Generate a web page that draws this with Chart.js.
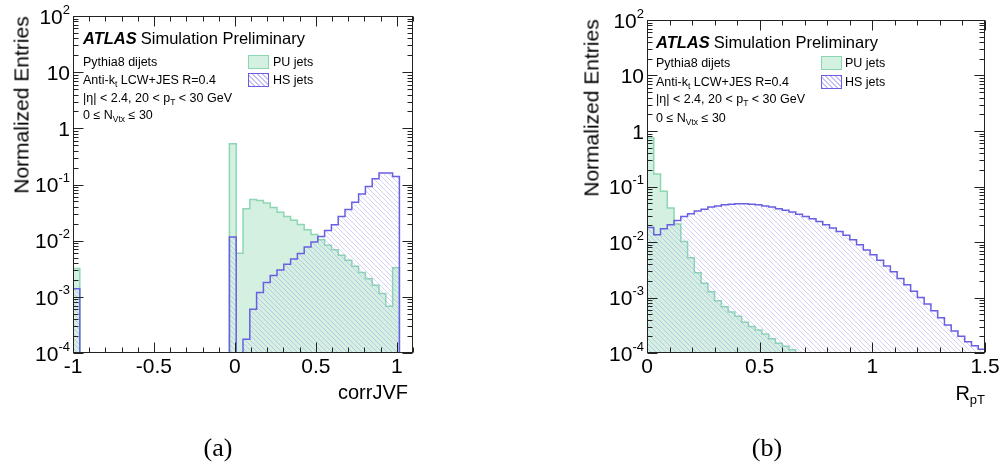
<!DOCTYPE html>
<html>
<head>
<meta charset="utf-8">
<script src="https://cdn.jsdelivr.net/npm/chart.js@4.4.1/dist/chart.umd.min.js"></script>
<style>
  body { margin: 0; background: #fff; width: 1008px; height: 464px; position: relative; overflow: hidden;
         font-family: "Liberation Sans", Arial, sans-serif; color: #000; }
  canvas { position: absolute; top: 0; }
  .t { position: absolute; white-space: nowrap; line-height: 1; }
  .atlas { font-size: 16.5px; }
  .atlas b { font-style: italic; font-weight: bold; margin-right: 4px; }
  .small { font-size: 12.5px; }
  .small sub { font-size: 8.5px; vertical-align: -3px; line-height: 0; }
  .box { position: absolute; width: 19px; height: 12px; }
  .pu { background: rgb(212, 240, 225); border: 1px solid rgb(140, 215, 178); }
  .hs { border: 1px solid rgb(105, 95, 225);
        background: repeating-linear-gradient(45deg, rgba(160, 150, 240, 0.6) 0 1px, transparent 1px 3.5px); }
  .ytitle { font-size: 21px; transform: translate(-50%, -50%) rotate(-90deg); }
  .xtitle { font-size: 20px; }
  .xtitle sub { font-size: 13px; vertical-align: -4px; line-height: 0; }
  .cap { font-family: "Liberation Serif", "Times New Roman", serif; font-size: 26px; width: 60px; text-align: center; }
</style>
</head>
<body>
<canvas id="jvf" width="504" height="464" style="left:0"></canvas>
<canvas id="rpt" width="504" height="464" style="left:504px"></canvas>

<!-- left panel texts -->
<div class="t atlas" style="left:83px; top:30px"><b>ATLAS</b>Simulation Preliminary</div>
<div class="t small" style="left:83px; top:55.5px">Pythia8 dijets</div>
<div class="t small" style="left:83px; top:74px">Anti-k<sub>t</sub> LCW+JES R=0.4</div>
<div class="t small" style="left:83px; top:91.5px">|η| &lt; 2.4, 20 &lt; p<sub>T</sub> &lt; 30 GeV</div>
<div class="t small" style="left:83px; top:109px">0 ≤ N<sub>Vtx</sub> ≤ 30</div>
<div class="box pu" style="left:248px; top:55px"></div>
<div class="box hs" style="left:248px; top:73px"></div>
<div class="t small" style="left:273px; top:55.5px">PU jets</div>
<div class="t small" style="left:273px; top:74px">HS jets</div>
<div class="t ytitle" style="left:21px; top:105px">Normalized Entries</div>
<div class="t xtitle" style="right:600px; top:382px">corrJVF</div>
<div class="t cap" style="left:188px; top:435px">(a)</div>

<!-- right panel texts -->
<div class="t atlas" style="left:656px; top:33.5px"><b>ATLAS</b>Simulation Preliminary</div>
<div class="t small" style="left:656px; top:57px">Pythia8 dijets</div>
<div class="t small" style="left:656px; top:75.5px">Anti-k<sub>t</sub> LCW+JES R=0.4</div>
<div class="t small" style="left:656px; top:93px">|η| &lt; 2.4, 20 &lt; p<sub>T</sub> &lt; 30 GeV</div>
<div class="t small" style="left:656px; top:111.5px">0 ≤ N<sub>Vtx</sub> ≤ 30</div>
<div class="box pu" style="left:821px; top:56px"></div>
<div class="box hs" style="left:821px; top:75px"></div>
<div class="t small" style="left:845px; top:57px">PU jets</div>
<div class="t small" style="left:845px; top:75.5px">HS jets</div>
<div class="t ytitle" style="left:591px; top:108px">Normalized Entries</div>
<div class="t xtitle" style="right:23px; top:383px">R<sub>pT</sub></div>
<div class="t cap" style="left:737px; top:435px">(b)</div>

<script>
// y range shared by both panels
const Y_MIN = 1e-4;
const Y_MAX = 100;
const yDecades = [-4, -3, -2, -1, 0, 1, 2];

// (a) corrJVF: 50 bins of width 0.042 starting at -1
const jvfLo = -1;
const jvfBinW = 0.042;
const jvfTicks = [-1, -0.5, 0, 0.5, 1];
const jvfPU = [0.0032,
  0, 0, 0, 0, 0, 0, 0, 0, 0, 0, 0, 0, 0, 0, 0, 0, 0, 0, 0, 0, 0, 0,
  0.53, 0.006, 0.037, 0.054, 0.052, 0.047, 0.039, 0.032, 0.027, 0.023,
  0.0195, 0.0157, 0.0129, 0.0104, 0.0083, 0.0069, 0.0055, 0.0045, 0.0035, 0.0027,
  0.0021, 0.0016, 0.00115, 0.00068, 0.0033, 0, 0];
const jvfHS = [0.0014,
  0, 0, 0, 0, 0, 0, 0, 0, 0, 0, 0, 0, 0, 0, 0, 0, 0, 0, 0, 0, 0, 0,
  0.0116, 0, 0.000175, 0.0006, 0.0012, 0.0018, 0.0024, 0.003, 0.0038, 0.0047,
  0.0059, 0.0077, 0.0095, 0.0119, 0.0152, 0.0192, 0.027, 0.036, 0.0485, 0.068,
  0.092, 0.126, 0.161, 0.161, 0.139, 0, 0];

// (b) RpT: 50 bins of width 0.03 starting at 0
const rptLo = 0;
const rptBinW = 0.03;
const rptTicks = [0, 0.5, 1, 1.5];
const rptPU = [0.75, 0.168, 0.082, 0.041, 0.021, 0.0102, 0.0052, 0.0028, 0.0018, 0.00127,
  0.00087, 0.00068, 0.00055, 0.00046, 0.00036, 0.0003, 0.00026, 0.00022, 0.00018, 0.00015,
  0.000132, 0.000115, 0, 0, 0, 0, 0, 0, 0, 0,
  0, 0, 0, 0, 0, 0, 0, 0, 0, 0,
  0, 0, 0, 0, 0, 0, 0, 0, 0, 0];
const rptHS = [0.0182, 0.0135, 0.0174, 0.0204, 0.0245, 0.0288, 0.0324, 0.0363, 0.0389, 0.0427,
  0.0447, 0.0468, 0.0479, 0.049, 0.049, 0.0479, 0.0468, 0.0447, 0.0427, 0.0398,
  0.0372, 0.0347, 0.0316, 0.0288, 0.0263, 0.0234, 0.0204, 0.0178, 0.0155, 0.0132,
  0.011, 0.0089, 0.0072, 0.0059, 0.0047, 0.0037, 0.0029, 0.0022, 0.0017, 0.0013,
  0.001, 0.00076, 0.00058, 0.00043, 0.00032, 0.00025, 0.0002, 0.00016, 0.000135, 0.000117];

const PU_FILL = 'rgb(212, 240, 225)';
const PU_LINE = 'rgb(140, 215, 178)';
const HS_LINE = 'rgb(105, 95, 225)';
const FONT = '"Liberation Sans", Arial, sans-serif';

// histogram outline: points on bin edges, empty bins sit on the axis floor
function histPoints(lo, w, vals) {
  const pts = [{x: lo, y: Y_MIN}];
  vals.forEach((v, i) => pts.push({x: lo + i * w, y: v > 0 ? v : Y_MIN}));
  pts.push({x: lo + vals.length * w, y: Y_MIN});
  return pts;
}

function hatch() {
  const c = document.createElement('canvas');
  c.width = c.height = 5;
  const g = c.getContext('2d');
  g.strokeStyle = 'rgba(160, 150, 240, 0.45)';
  g.lineWidth = 1;
  g.beginPath();
  g.moveTo(-1, -1); g.lineTo(6, 6);
  g.moveTo(-1, 4); g.lineTo(1, 6);
  g.moveTo(4, -1); g.lineTo(6, 1);
  g.stroke();
  return g.createPattern(c, 'repeat');
}

function seg(ctx, x1, y1, x2, y2) {
  ctx.beginPath(); ctx.moveTo(x1, y1); ctx.lineTo(x2, y2); ctx.stroke();
}

// ROOT-like frame: inward ticks on all four sides, 10^n labels
const framePlugin = {
  id: 'frame',
  afterDraw(chart) {
    const {ctx, chartArea: a, scales: {x, y}} = chart;
    ctx.save();
    ctx.strokeStyle = '#222';
    ctx.lineWidth = 1;
    const L = Math.round(a.left) + 0.5, R = Math.round(a.right) - 0.5;
    const T = Math.round(a.top) + 0.5, B = Math.round(a.bottom) - 0.5;
    ctx.strokeRect(L, T, R - L, B - T);

    for (let i = Math.ceil(x.min * 10 - 1e-6); i <= Math.floor(x.max * 10 + 1e-6); i++) {
      const px = Math.round(x.getPixelForValue(i / 10)) + 0.5;
      const len = i % 5 === 0 ? 10 : 5;
      seg(ctx, px, B, px, B - len);
      seg(ctx, px, T, px, T + len);
    }
    yDecades.forEach(e => {
      for (let m = 1; m < 10; m++) {
        const v = m * Math.pow(10, e);
        if (v > Y_MAX * 1.0001) break;
        const py = Math.round(y.getPixelForValue(v)) + 0.5;
        const len = m === 1 ? 10 : 5;
        seg(ctx, L, py, L + len, py);
        seg(ctx, R, py, R - len, py);
      }
    });

    ctx.fillStyle = '#000';
    ctx.textBaseline = 'middle';
    yDecades.forEach(e => {
      const py = y.getPixelForValue(Math.pow(10, e)) + 2;
      const xr = a.left - 3;
      if (e === 0 || e === 1) {
        ctx.font = '21px ' + FONT;
        ctx.textAlign = 'right';
        ctx.fillText(e === 0 ? '1' : '10', xr, py);
        return;
      }
      ctx.font = '13px ' + FONT;
      const sup = String(e);
      const ws = ctx.measureText(sup).width;
      ctx.textAlign = 'left';
      ctx.fillText(sup, xr - ws, py - 8);
      ctx.font = '21px ' + FONT;
      ctx.textAlign = 'right';
      ctx.fillText('10', xr - ws, py);
    });
    ctx.restore();
  }
};

function makeChart(id, lo, w, pu, hs, xMin, xMax, xTicks, yW, padR, padT) {
  return new Chart(document.getElementById(id), {
    type: 'line',
    data: {
      datasets: [
        {label: 'HS jets', data: histPoints(lo, w, hs), stepped: true, order: 0,
         borderColor: HS_LINE, borderWidth: 1.5, backgroundColor: hatch(), fill: 'start', pointRadius: 0},
        {label: 'PU jets', data: histPoints(lo, w, pu), stepped: true, order: 1,
         borderColor: PU_LINE, borderWidth: 1.5, backgroundColor: PU_FILL, fill: 'start', pointRadius: 0}
      ]
    },
    options: {
      responsive: false,
      animation: false,
      events: [],
      layout: {padding: {left: 0, right: padR, top: padT, bottom: 0}},
      plugins: {legend: {display: false}, tooltip: {enabled: false}},
      scales: {
        x: {
          type: 'linear', min: xMin, max: xMax,
          afterBuildTicks: s => { s.ticks = xTicks.map(v => ({value: v})); },
          afterFit: s => { s.height = 111; },
          grid: {display: false, drawTicks: false},
          border: {display: false},
          ticks: {color: '#000', font: {family: FONT, size: 21}, padding: 2,
                  maxRotation: 0, autoSkip: false, callback: v => String(v)}
        },
        y: {
          type: 'logarithmic', min: Y_MIN, max: Y_MAX,
          afterFit: s => { s.width = yW; },
          grid: {display: false, drawTicks: false},
          border: {display: false},
          ticks: {display: false}
        }
      }
    },
    plugins: [framePlugin]
  });
}

makeChart('jvf', jvfLo, jvfBinW, jvfPU, jvfHS, -1, 1.1, jvfTicks, 73, 91, 16);
makeChart('rpt', rptLo, rptBinW, rptPU, rptHS, 0, 1.5, rptTicks, 143, 23, 20);
</script>
</body>
</html>
